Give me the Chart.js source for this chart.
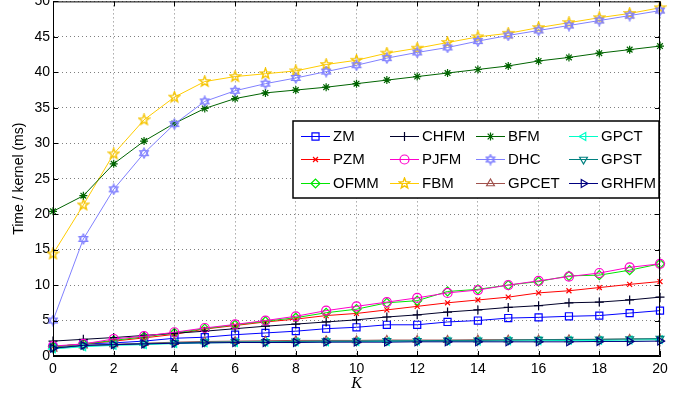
<!DOCTYPE html>
<html lang="en">
<head>
  <meta charset="UTF-8" />
  <title>Time / kernel</title>
  <script src="https://cdn.jsdelivr.net/npm/chart.js"></script>
  <style>
    html, body { margin: 0; padding: 0; background: #fff; overflow: hidden; }
    .wrap { position: relative; width: 677px; height: 394px; overflow: hidden; }
    #chart { position: absolute; left: 0; top: -10px; }
  </style>
</head>
<body>
  <div class="wrap"><canvas id="chart" width="677" height="404"></canvas></div>

  <script>
// K values and timings (ms)
const K = [0,1,2,3,4,5,6,7,8,9,10,11,12,13,14,15,16,17,18,19,20];
const xTicks = [0,2,4,6,8,10,12,14,16,18,20];
const yTicks = [0,5,10,15,20,25,30,35,40,45,50];

const zm    = [1.3,1.7,1.85,2.1,2.5,2.65,3.0,3.25,3.5,3.85,4.05,4.4,4.4,4.8,5.0,5.35,5.45,5.6,5.7,6.05,6.4];
const pzm   = [1.3,1.7,2.1,2.55,3.05,3.8,4.3,4.8,5.2,5.7,6.0,6.5,7.0,7.5,7.9,8.3,8.9,9.2,9.65,10.1,10.5];
const ofmm  = [1.3,1.7,2.2,2.7,3.25,3.85,4.4,4.9,5.4,6.1,6.6,7.5,7.8,9.1,9.4,10.0,10.5,11.3,11.4,12.1,13.0];
const chfm  = [2.1,2.35,2.6,2.9,3.2,3.5,3.85,4.2,4.5,4.8,5.1,5.5,5.8,6.2,6.5,6.85,7.1,7.5,7.6,7.9,8.3];
const pjfm  = [1.4,1.7,2.4,2.8,3.35,3.95,4.45,5.0,5.6,6.4,7.0,7.6,8.2,8.9,9.3,10.0,10.6,11.2,11.7,12.5,13.0];
const fbm   = [14.4,21.3,28.5,33.3,36.5,38.7,39.4,39.8,40.2,41.1,41.7,42.7,43.4,44.2,45.0,45.5,46.3,47.0,47.7,48.3,49.1];
const bfm   = [20.4,22.6,27.1,30.3,32.8,34.9,36.3,37.1,37.5,37.9,38.4,38.9,39.4,39.9,40.4,40.9,41.6,42.1,42.7,43.2,43.7];
const dhc   = [5.0,16.5,23.5,28.6,32.7,35.9,37.4,38.4,39.2,40.1,41.0,42.0,42.8,43.5,44.4,45.2,45.9,46.6,47.3,48.0,48.7];
const gpcet = [1.0,1.45,1.65,1.8,1.95,2.05,2.1,2.15,2.2,2.2,2.2,2.25,2.25,2.25,2.3,2.3,2.3,2.35,2.35,2.4,2.4];
const gpct  = [1.0,1.3,1.5,1.6,1.75,1.85,1.9,1.95,2.0,2.0,2.05,2.05,2.1,2.1,2.1,2.15,2.15,2.2,2.2,2.25,2.3];
const gpst  = [1.1,1.5,1.6,1.75,1.85,1.95,2.0,2.0,2.05,2.1,2.1,2.15,2.15,2.2,2.2,2.25,2.3,2.3,2.35,2.4,2.45];
const grhfm = [1.1,1.5,1.6,1.7,1.8,1.85,1.9,1.9,1.9,1.95,1.95,1.95,2.0,2.0,2.0,2.0,2.0,2.0,2.05,2.05,2.1];

// star-shaped markers that Chart.js does not have built in
function starMarker(color, points, size, lw) {
  const c = document.createElement('canvas');
  c.width = size; c.height = size;
  const g = c.getContext('2d');
  g.strokeStyle = color;
  g.lineWidth = lw;
  const cx = size / 2, cy = size / 2, ro = size / 2 - 1;
  if (points === 6) {
    // hexagram: two overlapping triangles
    for (let t = 0; t < 2; t++) {
      g.beginPath();
      for (let k = 0; k < 3; k++) {
        const a = -Math.PI / 2 + t * Math.PI + k * 2 * Math.PI / 3;
        const px = cx + ro * Math.cos(a), py = cy + ro * Math.sin(a);
        k === 0 ? g.moveTo(px, py) : g.lineTo(px, py);
      }
      g.closePath();
      g.stroke();
    }
  } else {
    const ri = ro * 0.42;
    g.beginPath();
    for (let k = 0; k < 10; k++) {
      const r = k % 2 ? ri : ro;
      const a = -Math.PI / 2 + k * Math.PI / 5;
      const px = cx + r * Math.cos(a), py = cy + r * Math.sin(a);
      k === 0 ? g.moveTo(px, py) : g.lineTo(px, py);
    }
    g.closePath();
    g.stroke();
  }
  return c;
}

// series in MATLAB plot order (legend fills column by column)
const series = [
  { label: 'ZM',    data: zm,    color: '#0000ff', style: 'rect',     rot: 0,   r: 5 },
  { label: 'PZM',   data: pzm,   color: '#ff0000', style: 'crossRot', rot: 0,   r: 3.5 },
  { label: 'OFMM',  data: ofmm,  color: '#00e600', style: 'rectRot',  rot: 0,   r: 4.5 },
  { label: 'CHFM',  data: chfm,  color: '#00002a', style: 'cross',    rot: 0,   r: 4.5 },
  { label: 'PJFM',  data: pjfm,  color: '#ff00cc', style: 'circle',   rot: 0,   r: 4.5 },
  { label: 'FBM',   data: fbm,   color: '#ffcc00', style: starMarker('#f5c400', 5, 13, 1.4), rot: 0, r: 5 },
  { label: 'BFM',   data: bfm,   color: '#006400', style: 'star',     rot: 0,   r: 4 },
  { label: 'DHC',   data: dhc,   color: '#8080ff', style: starMarker('#8080ff', 6, 12, 1.2), rot: 0, r: 5 },
  { label: 'GPCET', data: gpcet, color: '#a0524d', style: 'triangle', rot: 0,   r: 4.5 },
  { label: 'GPCT',  data: gpct,  color: '#00ffc8', style: 'triangle', rot: -90, r: 4.5 },
  { label: 'GPST',  data: gpst,  color: '#008080', style: 'triangle', rot: 180, r: 4.5 },
  { label: 'GRHFM', data: grhfm, color: '#000080', style: 'triangle', rot: 90,  r: 4.5 }
];

const datasets = series.map((s, i) => ({
  label: s.label,
  data: K.map((k, j) => ({ x: k, y: s.data[j] })),
  borderColor: s.color,
  backgroundColor: s.color,
  borderWidth: 1,
  pointStyle: s.style,
  pointRotation: s.rot,
  pointRadius: s.r,
  pointBorderWidth: 1.2,
  pointBorderColor: s.color,
  pointBackgroundColor: 'rgba(0,0,0,0)',
  tension: 0,
  clip: false,
  order: series.length - i
}));

// box, inward ticks and the boxed legend, MATLAB style
const matlabFrame = {
  id: 'matlabFrame',
  afterDraw(chart) {
    const ctx = chart.ctx;
    const a = chart.chartArea;
    const xs = chart.scales.x, ys = chart.scales.y;
    ctx.save();
    ctx.strokeStyle = '#000';
    ctx.lineWidth = 1;
    ctx.beginPath();
    ctx.rect(a.left + 0.5, a.top + 0.5, a.right - a.left - 1, a.bottom - a.top - 1);
    ctx.stroke();
    ctx.beginPath();
    xTicks.forEach(v => {
      const px = Math.round(xs.getPixelForValue(v)) + 0.5;
      ctx.moveTo(px, a.bottom); ctx.lineTo(px, a.bottom - 5);
      ctx.moveTo(px, a.top); ctx.lineTo(px, a.top + 5);
    });
    yTicks.forEach(v => {
      const py = Math.round(ys.getPixelForValue(v)) + 0.5;
      ctx.moveTo(a.left, py); ctx.lineTo(a.left + 5, py);
      ctx.moveTo(a.right, py); ctx.lineTo(a.right - 5, py);
    });
    ctx.stroke();

    // legend
    const bx = 293, by = 131, bw = 366, bh = 77;
    const cols = [301, 390, 476, 569];
    const rows = [146, 169, 193];
    ctx.fillStyle = '#fff';
    ctx.fillRect(bx, by, bw, bh);
    ctx.lineWidth = 1.5;
    ctx.strokeRect(bx, by, bw, bh);
    ctx.font = '15px "Liberation Sans", Arial, sans-serif';
    ctx.textBaseline = 'middle';
    series.forEach((s, i) => {
      const lx = cols[Math.floor(i / 3)], ly = rows[i % 3];
      ctx.strokeStyle = s.color;
      ctx.lineWidth = 1;
      ctx.beginPath();
      ctx.moveTo(lx, ly + 0.5); ctx.lineTo(lx + 29, ly + 0.5);
      ctx.stroke();
      ctx.fillStyle = 'rgba(0,0,0,0)';
      ctx.lineWidth = 1.2;
      Chart.helpers.drawPoint(ctx, { pointStyle: s.style, rotation: s.rot, radius: s.r, borderWidth: 1.2 }, lx + 14.5, ly + 0.5);
      ctx.fillStyle = '#000';
      ctx.fillText(s.label, lx + 32, ly + 1);
    });
    ctx.restore();
  }
};

const tickFont = { family: '"Liberation Sans", Arial, sans-serif', size: 14 };

new Chart(document.getElementById('chart'), {
  type: 'line',
  data: { datasets },
  options: {
    responsive: false,
    animation: false,
    devicePixelRatio: 1,
    layout: { padding: { top: 10, right: 17, left: 0, bottom: 0 } },
    plugins: { legend: { display: false }, tooltip: { enabled: false } },
    scales: {
      x: {
        type: 'linear', min: 0, max: 20,
        afterFit(s) { s.height = 38; },
        afterBuildTicks(s) { s.ticks = xTicks.map(v => ({ value: v })); },
        ticks: { color: '#000', font: tickFont, padding: 5, maxRotation: 0 },
        grid: { color: 'rgba(0,0,0,0.5)', drawTicks: false },
        border: { color: '#000', width: 1, dash: [1, 3] },
        title: { display: true, text: 'K', color: '#000', padding: { top: 2, bottom: 1 },
                 font: { family: '"Liberation Serif", "DejaVu Serif", serif', size: 16, style: 'italic' } }
      },
      y: {
        type: 'linear', min: 0, max: 50,
        afterFit(s) { s.width = 53; },
        afterBuildTicks(s) { s.ticks = yTicks.map(v => ({ value: v })); },
        ticks: { color: '#000', font: tickFont, padding: 3 },
        grid: { color: 'rgba(0,0,0,0.5)', drawTicks: false },
        border: { color: '#000', width: 1, dash: [1, 3] },
        title: { display: true, text: 'Time / kernel (ms)', color: '#000', padding: { top: 11, bottom: 0 },
                 font: { family: '"Liberation Sans", Arial, sans-serif', size: 14 } }
      }
    }
  },
  plugins: [matlabFrame]
});
</script>
</body>
</html>
